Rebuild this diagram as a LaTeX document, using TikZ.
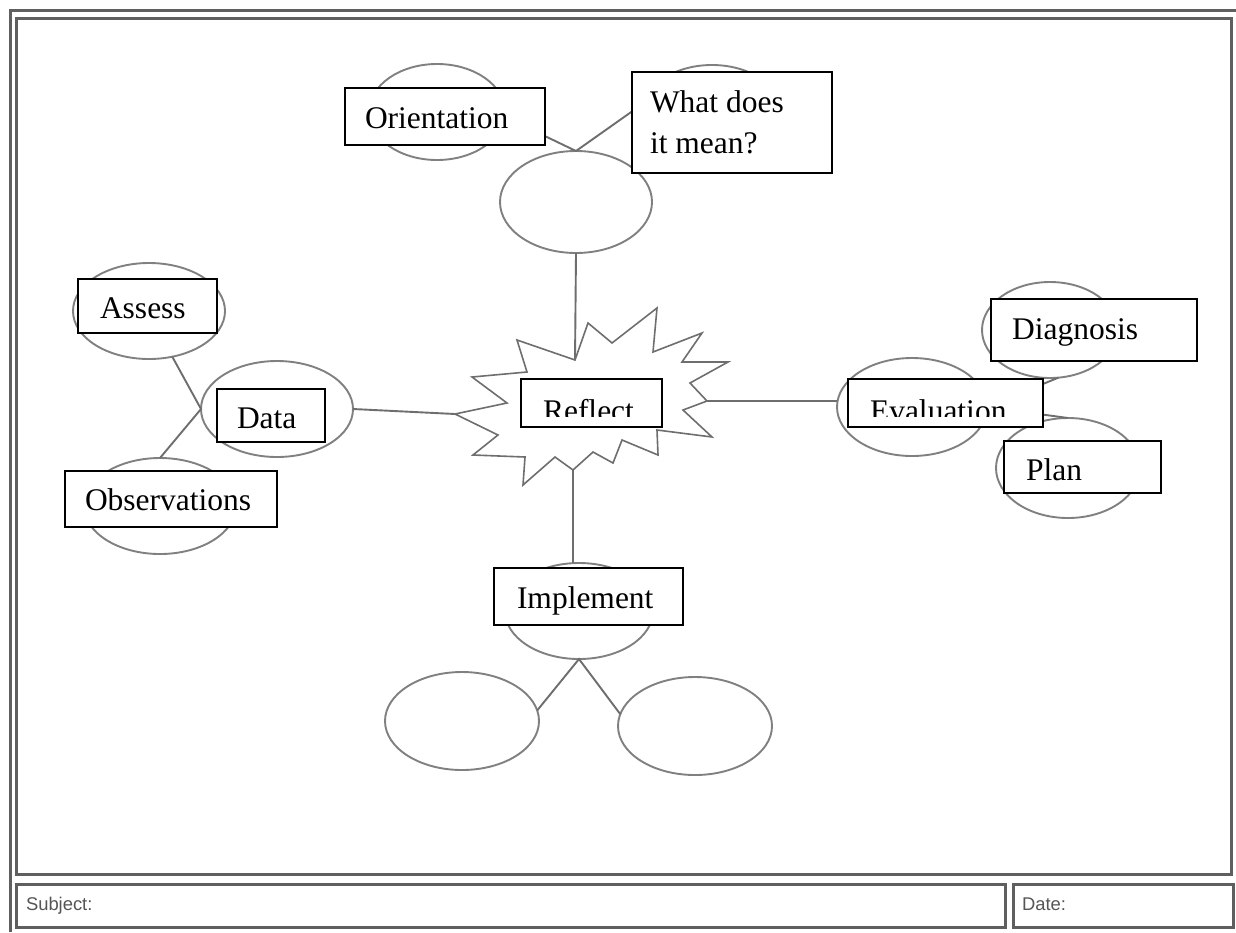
\documentclass[tikz,border=0pt]{standalone}
\usepackage{fontspec}
\setmainfont{Liberation Serif}
\newfontfamily\labfont{Liberation Sans}
\usetikzlibrary{shapes.geometric}
\definecolor{framec}{RGB}{95,95,95}
\definecolor{ellc}{RGB}{128,128,128}
\definecolor{conc}{RGB}{110,110,110}
\definecolor{labc}{RGB}{85,85,85}
\tikzset{
  ell/.style={ellipse, draw=ellc, line width=0.95pt, inner sep=0pt, outer sep=0pt, fill=white},
  con/.style={draw=conc, line width=0.95pt},
  bx/.style={rectangle, draw=black, line width=1.3pt, fill=white, inner sep=0pt, outer sep=0pt, anchor=north west},
  txt/.style={inner sep=0pt, outer sep=0pt, anchor=base west, font=\fontsize{15.75}{19}\selectfont},
  lab/.style={inner sep=0pt, outer sep=0pt, anchor=base west, text=labc, font=\labfont\fontsize{9.2}{11}\selectfont},
  framel/.style={draw=framec, line width=1.5pt},
  starl/.style={draw=conc, line width=0.8pt, fill=white, line join=miter}
}
\begin{document}
\begin{tikzpicture}[x=0.5pt,y=-0.5pt]
\useasboundingbox (0,0) rectangle (1236,932);
\fill[white] (0,0) rectangle (1236,932);
% frame
\draw[framel] (1236,10.5) -- (10.5,10.5) -- (10.5,932);
\draw[framel] (16.5,18.5) rectangle (1231.5,874);
\draw[framel] (16.5,884.5) rectangle (1005,927.5);
\draw[framel] (1013,884.5) rectangle (1233,927.5);

% ellipses
\node[ell, minimum width=68pt, minimum height=48pt] (orE) at (437,112) {};
\node[ell, minimum width=70pt, minimum height=48pt] (whE) at (712,113) {};
\node[ell, minimum width=76pt, minimum height=51pt] (midE) at (576,202) {};
\node[ell, minimum width=76pt, minimum height=48pt] (asE) at (149,311) {};
\node[ell, minimum width=76pt, minimum height=48pt] (daE) at (277,409) {};
\node[ell, minimum width=76pt, minimum height=48pt] (obE) at (160,506) {};
\node[ell, minimum width=75pt, minimum height=49pt] (evE) at (912,407) {};
\node[ell, minimum width=68pt, minimum height=48pt] (diE) at (1050,330) {};
\node[ell, minimum width=72pt, minimum height=50pt] (plE) at (1068,468) {};
\node[ell, minimum width=74pt, minimum height=48pt] (imE) at (579,611) {};
\node[ell, minimum width=77pt, minimum height=49pt] (blE) at (462,721) {};
\node[ell, minimum width=77pt, minimum height=49pt] (brE) at (695,726) {};

% star
\coordinate (sT) at (575,360);
\coordinate (sR) at (707,401);
\coordinate (sB) at (573,470);
\coordinate (sL) at (455,414);
\path[starl] (sT) -- (588,323) -- (612,343) -- (657,308) -- (653,352) -- (702,333)
  -- (682,362) -- (728,362) -- (690,383) -- (sR) -- (683,410) -- (712,437)
  -- (657,430) -- (658,455) -- (622,440) -- (613,463) -- (593,452) -- (sB)
  -- (555,457) -- (523,485) -- (525,457) -- (473,455) -- (498,435) -- (sL)
  -- (507,403) -- (472,377) -- (527,372) -- (517,340) -- cycle;

% connectors
\draw[con] (orE.-4) -- (midE.north) -- (whE.172);
\draw[con] (midE.south) -- (sT);
\draw[con] (asE.-63) -- (daE.west) -- (obE.north);
\draw[con] (daE.east) -- (sL);
\draw[con] (sR) -- (sR -| evE.west);
\draw[con] (diE.-80) -- (evE.east) -- (plE.north);
\draw[con] (sB) -- (sB |- imE.north);
\draw[con] (blE.8) -- (imE.south) -- (brE.171);

% boxes
\node[bx, minimum width=100pt, minimum height=28.5pt] (orB) at (345,88) {};
\node[bx, minimum width=100pt, minimum height=50.5pt] (whB) at (632,72) {};
\node[bx, minimum width=70.5pt, minimum height=24pt] (reB) at (521,379) {};
\node[bx, minimum width=97.5pt, minimum height=24pt] (evB) at (848,379) {};
\node[bx, minimum width=103pt, minimum height=31pt] (diB) at (991,299) {};
\node[bx, minimum width=78.5pt, minimum height=26pt] (plB) at (1004,441) {};
\node[bx, minimum width=69.5pt, minimum height=27pt] (asB) at (78,279) {};
\node[bx, minimum width=54pt, minimum height=26.5pt] (daB) at (217,389) {};
\node[bx, minimum width=106pt, minimum height=28pt] (obB) at (65,471) {};
\node[bx, minimum width=94.5pt, minimum height=28.5pt] (imB) at (494,568) {};

% texts
\node[txt] (orT) at (365,128) {Orientation};
\node[txt] (whT1) at (650,112) {What does};
\node[txt] (whT2) at (650,153) {it mean?};
\begin{scope}
  \clip (523,381) rectangle (660,416.5);
  \node[txt] (reT) at (543,421) {Reflect};
\end{scope}
\begin{scope}
  \clip (850,381) rectangle (1041,416.5);
  \node[txt] (evT) at (870,421) {Evaluation};
\end{scope}
\node[txt] (diT) at (1012,339) {Diagnosis};
\node[txt] (plT) at (1026,480) {Plan};
\node[txt] (asT) at (100,318) {Assess};
\node[txt] (daT) at (237,428) {Data};
\node[txt] (obT) at (85,510) {Observations};
\node[txt] (imT) at (517,608) {Implement};

\node[lab] (subT) at (26,910) {Subject:};
\node[lab] (datT) at (1022,910) {Date:};
\end{tikzpicture}
\end{document}
